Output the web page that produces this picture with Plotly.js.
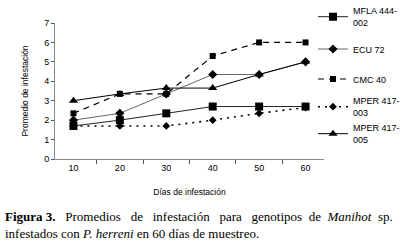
<!DOCTYPE html>
<html><head><meta charset="utf-8">
<script src="https://cdn.plot.ly/plotly-3.0.1.min.js"></script>
<style>html,body{margin:0;padding:0;background:#fff}#c{width:410px;height:242px}</style>
</head><body><div id="c"></div>
<script>
const days = ["10","20","30","40","50","60"];
const mfla444 = [1.7, 2.0, 2.35, 2.7, 2.7, 2.7];
const ecu72 = [2.0, 2.35, 3.35, 4.35, 4.35, 5.0];
const cmc40 = [2.35, 3.35, 3.35, 5.3, 6.0, 6.0];
const mper003 = [1.7, 1.7, 1.7, 2.0, 2.35, 2.65];
const mper005 = [3.0, 3.35, 3.65, 3.65, 4.35, 5.0];
const names = ["MFLA 444-<br>002", "ECU 72", "CMC 40", "MPER 417-<br>003", "MPER 417-<br>005"];

const F = "Liberation Sans, Arial, sans-serif";
function tr(y, name, leg, line, sym, size) {
  return {x: days, y: y, name: name, legend: leg, type: "scatter", mode: "lines+markers",
    line: line, marker: {symbol: sym, size: size, color: "#000"}};
}
const data = [
  tr(mfla444, names[0], "legend", {color: "#222", width: 1}, "square", 8),
  tr(ecu72, names[1], "legend2", {color: "#666", width: 1}, "diamond", 7),
  tr(cmc40, names[2], "legend3", {color: "#000", width: 1.2, dash: "6px,5px"}, "square", 6),
  tr(mper003, names[3], "legend4", {color: "#000", width: 1.6, dash: "2px,5px"}, "diamond", 6),
  tr(mper005, names[4], "legend5", {color: "#000", width: 1}, "triangle-up", 8)
];
function lg(ypx) {
  return {xref: "container", yref: "container", x: 313 / 410, xanchor: "left",
    y: 1 - ypx / 242, yanchor: "middle",
    font: {family: F, size: 9, color: "#000"}, bgcolor: "rgba(0,0,0,0)", borderwidth: 0};
}
const S = "\u00a0";
const line1 = "<b>Figura" + S + "3.</b>" + S + S + S + "Promedios" + S + S + S + "de" + S + S + S + "infestación" + S + S + S +
  "para" + S + S + S + "genotipos" + S + S + "de" + S + S + "<i>Manihot</i>" + S + S + "sp.";
const layout = {
  width: 410, height: 242,
  margin: {l: 55, r: 86, t: 23, b: 83, autoexpand: false},
  paper_bgcolor: "#fff", plot_bgcolor: "#fff",
  font: {family: F, size: 9, color: "#000"},
  showlegend: true,
  legend: lg(17), legend2: lg(49), legend3: lg(79), legend4: lg(107), legend5: lg(134),
  xaxis: {type: "category", showline: true, linecolor: "#888", linewidth: 1,
    ticks: "outside", tickson: "boundaries", ticklen: 4, tickcolor: "#555",
    showgrid: false, zeroline: false, tickfont: {family: F, size: 9},
    title: {text: "Días de infestación", font: {family: F, size: 8.5}}},
  yaxis: {range: [0, 7], dtick: 1, showline: true, linecolor: "#888", linewidth: 1,
    ticks: "outside", ticklen: 3, tickcolor: "#555", showgrid: false, zeroline: false,
    tickfont: {family: F, size: 9},
    title: {text: "Promedio de infestación", font: {family: F, size: 8.5}}},
  annotations: [
    {xref: "paper", yref: "paper", x: -0.193, xanchor: "left", y: (159 - 225) / 136, yanchor: "middle",
     showarrow: false, align: "left",
     text: line1 + "<br>infestados con <i>P. herreni</i> en 60 días de muestreo.",
     font: {family: "Liberation Serif, Times New Roman, serif", size: 13, color: "#000"}}
  ]
};
Plotly.newPlot("c", data, layout, {staticPlot: true, displayModeBar: false});
</script></body></html>
